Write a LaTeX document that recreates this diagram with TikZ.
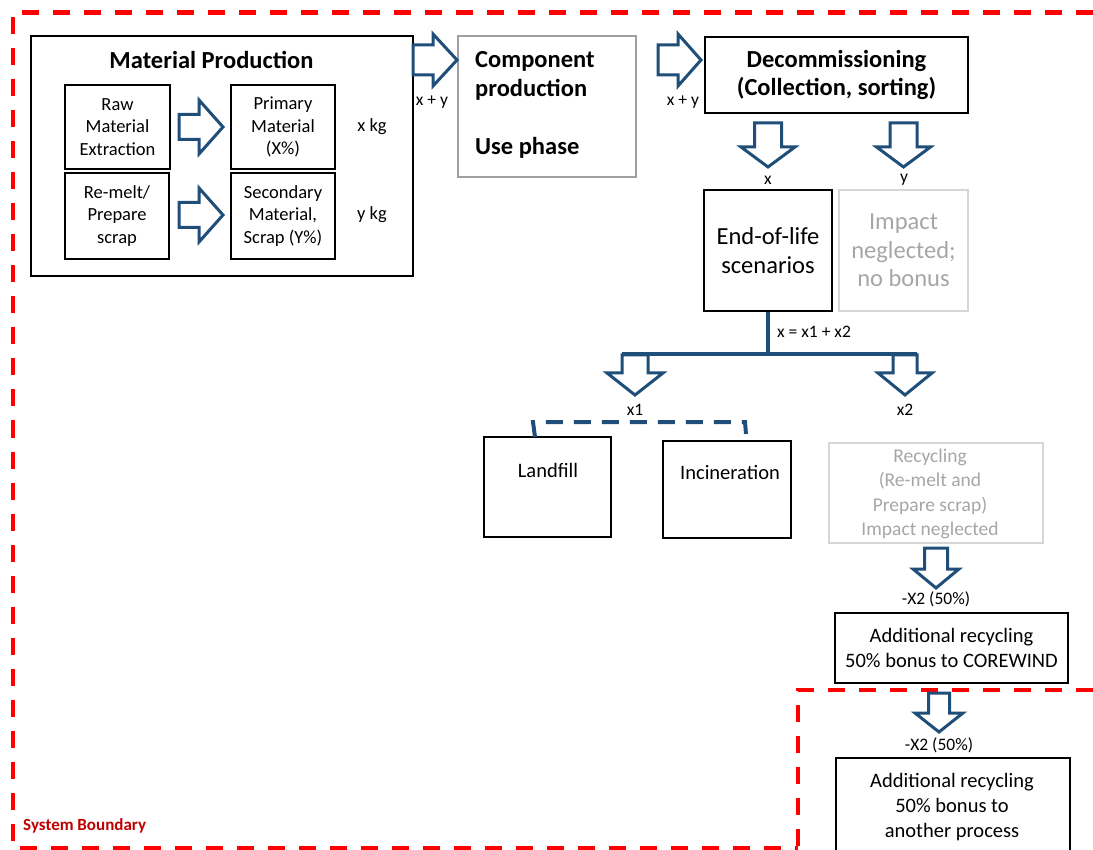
\documentclass[tikz,border=0pt]{standalone}
\usepackage{fontspec}
\setmainfont{Carlito}
\definecolor{arrowblue}{RGB}{31,78,121}
\definecolor{bred}{RGB}{255,0,0}
\definecolor{labred}{RGB}{192,0,0}
\definecolor{midgray}{RGB}{160,160,160}
\definecolor{palegray}{RGB}{214,214,214}
\definecolor{fadetext}{RGB}{166,166,166}
\newcommand\rightblock[6]{%
  \draw[blockarrow] (#1,#2-#5) -- (#1+#3,#2-#5) -- (#1+#3,#2-#6) -- (#1+#3+#4,#2) -- (#1+#3,#2+#6) -- (#1+#3,#2+#5) -- (#1,#2+#5) -- cycle;}
\newcommand\downblock[6]{%
  \draw[blockarrow] (#1-#5,#2) -- (#1+#5,#2) -- (#1+#5,#2+#3) -- (#1+#6,#2+#3) -- (#1,#2+#3+#4) -- (#1-#6,#2+#3) -- (#1-#5,#2+#3) -- cycle;}
\begin{document}
\begin{tikzpicture}[x=1pt,y=-1pt,
  box/.style={draw=black, line width=1.3pt, inner sep=0pt, align=center},
  graybox/.style={draw=midgray, line width=1.3pt, inner sep=0pt},
  fadebox/.style={draw=palegray, line width=1.3pt, inner sep=0pt, align=center, text=fadetext},
  blockarrow/.style={draw=arrowblue, line width=3pt, fill=white, line join=miter},
  branchline/.style={draw=arrowblue, line width=4pt},
  dashline/.style={draw=arrowblue, line width=4pt, dash pattern=on 17pt off 11pt},
  boundary/.style={draw=bred, line width=4.5pt, dash pattern=on 17pt off 14pt},
  bigbold/.style={font=\bfseries\fontsize{24.5}{28.5}\selectfont, align=center, inner sep=0pt},
  bigtext/.style={font=\fontsize{24.5}{28.5}\selectfont, align=center},
  smalltext/.style={font=\fontsize{18.5}{22.5}\selectfont},
  midtext/.style={font=\fontsize{20.5}{25}\selectfont},
  lab/.style={font=\fontsize{17.5}{19}\selectfont, inner sep=0pt}]
\useasboundingbox (0,0) rectangle (1093,850);
\clip (0,0) rectangle (1093,850);

% System boundaries
\draw[boundary] (1093,12.5) -- (13,12.5) -- (13,848) -- (798,848);
\draw[boundary] (1093,690) -- (798,690) -- (798,852);
\node[font=\bfseries\fontsize{17}{20}\selectfont, text=labred, anchor=west, inner sep=0pt] (sysb) at (23,826) {System Boundary};

% Material production
\node[box, minimum width=382pt, minimum height=240pt] (mp) at (222,156) {};
\node[bigbold] (mptitle) at (211.5,60) {Material Production};
\node[box, smalltext, minimum width=105pt, minimum height=84pt] (raw) at (117.5,127) {Raw\\Material\\Extraction};
\node[box, smalltext, minimum width=104pt, minimum height=84pt] (prim) at (283,127) {Primary\\Material\\(X\%)};
\node[box, smalltext, minimum width=104pt, minimum height=86pt] (remelt) at (117,216) {Re-melt/\\Prepare\\scrap};
\node[box, smalltext, minimum width=104pt, minimum height=86pt] (sec) at (283,216) {Secondary\\Material,\\Scrap (Y\%)};
\node[font=\fontsize{18.5}{21}\selectfont] (xkg) at (372,127) {x kg};
\node[font=\fontsize{18.5}{21}\selectfont] (ykg) at (372,215) {y kg};
\rightblock{179}{127}{20}{24}{12.5}{27}
\rightblock{179}{215}{20}{24}{12.5}{27}

% Component production / use phase
\node[graybox, minimum width=178pt, minimum height=141pt] (comp) at (547,106.5) {};
\node[bigbold, align=left, anchor=west] (comptxt) at (475,76) {Component\\production};
\node[bigbold, anchor=west] (usetxt) at (475,148) {Use phase};
\rightblock{413}{60}{20}{24}{15}{26}
\node[lab] (xy1) at (432,102) {x + y};

% Decommissioning
\node[box, bigbold, minimum width=263pt, minimum height=76pt] (decom) at (836.5,75) {Decommissioning\\(Collection, sorting)};
\rightblock{658}{60}{20}{23}{15}{26}
\node[lab] (xy2) at (683,102) {x + y};
\downblock{768}{123}{24}{20}{13.5}{27}
\downblock{903.5}{123}{24}{20}{13.5}{27}
\node[lab] (lx) at (768,180) {x};
\node[lab] (ly) at (904,180) {y};

% End of life
\node[box, bigtext, minimum width=128pt, minimum height=121pt] (eol) at (768,250.5) {End-of-life\\scenarios};
\node[fadebox, bigtext, minimum width=129pt, minimum height=121pt] (impact) at (903.5,250.5) {Impact\\neglected;\\no bonus};

% Branch
\coordinate (split) at (768,354);
\coordinate (bl) at (622,354);
\coordinate (br) at (917,354);
\downblock{635}{355}{18}{22}{13}{28}
\downblock{905}{355}{18}{22}{12}{27}
\draw[branchline] (eol.south) -- (split);
\draw[branchline] (bl) -- (br);
\node[lab, anchor=west] (xsum) at (777,332) {x = x1 + x2};
\node[lab] (lx1) at (635,410) {x1};
\node[lab] (lx2) at (905,410) {x2};

% Landfill / incineration
\node[box, minimum width=127pt, minimum height=100pt] (landfill) at (547.5,487) {};
\node[box, minimum width=128pt, minimum height=97pt] (incin) at (727,489.5) {};
\node[midtext] (landtxt) at (548,470) {Landfill};
\node[midtext] (incintxt) at (730,472) {Incineration};
\coordinate (dl) at (533,422);
\coordinate (dr) at (745,422);
\draw[dashline] (535,437) -- (dl) -- (dr) -- (746,434);

% Recycling
\node[fadebox, minimum width=214pt, minimum height=100pt] (recyc) at (936,493) {};
\node[font=\fontsize{19.5}{24.5}\selectfont, text=fadetext, align=center] (recyctxt) at (930,494) {Recycling\\(Re-melt and\\Prepare scrap)\\Impact neglected};
\downblock{936}{548}{21}{19}{11.5}{23}
\node[lab] (lab50a) at (936,599) {-X2 (50\%)};
\node[box, midtext, minimum width=233pt, minimum height=70pt] (add1) at (951.5,648) {Additional recycling\\50\% bonus to COREWIND};
\downblock{939}{693}{20}{19}{10.5}{24}
\node[lab] (lab50b) at (939,745) {-X2 (50\%)};
\node[box, minimum width=234pt, minimum height=122pt] (add2) at (953,819) {};
\node[midtext, align=center] (add2txt) at (952,807) {Additional recycling\\50\% bonus to\\another process};
\end{tikzpicture}
\end{document}
